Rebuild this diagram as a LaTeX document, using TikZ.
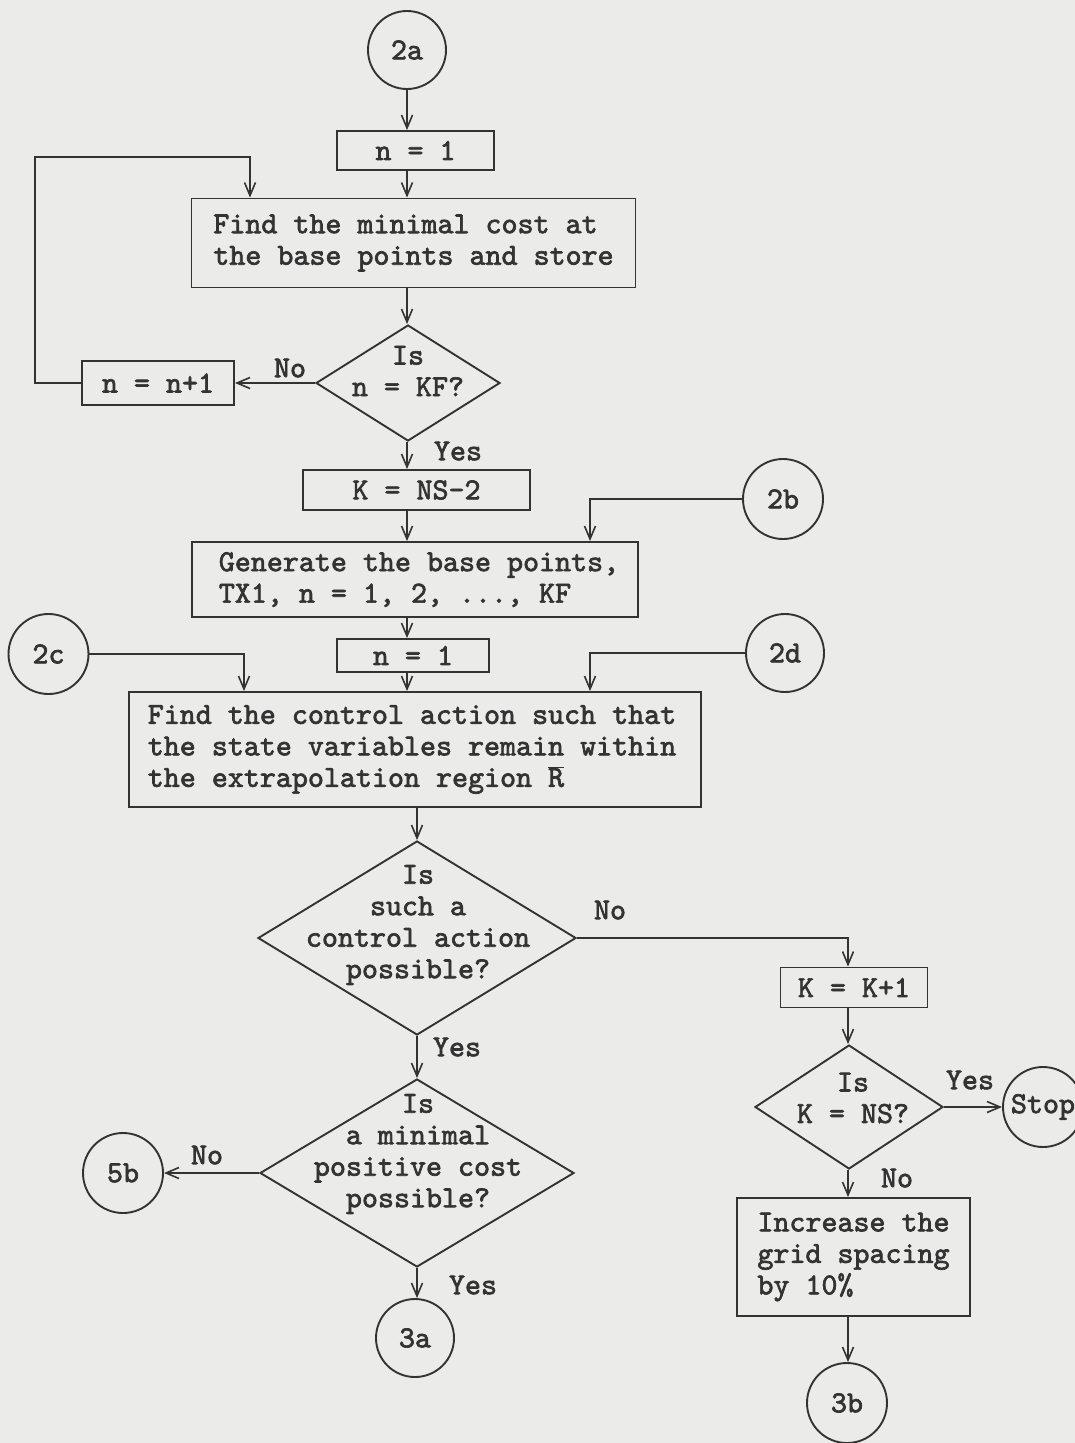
\documentclass[tikz,border=0pt]{standalone}
\usepackage{fontspec}
\newfontfamily\tw{lmmono10-regular.otf}[FakeBold=2.2]
\usetikzlibrary{arrows.meta,shapes.geometric}
\definecolor{paper}{HTML}{EBEBEA}
\definecolor{ink}{HTML}{333333}
\tikzset{
  box/.style={draw=ink, line width=1.9pt, rectangle, inner sep=0pt},
  circ/.style={draw=ink, line width=1.9pt, circle, inner sep=0pt},
  dia/.style={draw=ink, line width=1.9pt, diamond, inner sep=0pt},
  txt/.style={text=ink, font=\tw\fontsize{30.5}{31.5}\selectfont, inner sep=0pt},
  lbl/.style={text=ink, font=\tw\fontsize{30.5}{31.5}\selectfont, inner sep=0pt},
  arr/.style={draw=ink, line width=1.9pt, -{Straight Barb[length=13pt,width=11pt,line width=1.6pt]}},
  ln/.style={draw=ink, line width=1.9pt}
}
\begin{document}
\begin{tikzpicture}[x=1pt,y=-1pt]
\useasboundingbox (0,0) rectangle (1075,1443);
\fill[paper] (0,0) rectangle (1075,1443);

% column coordinates
\coordinate (colA) at (407,0);
\coordinate (colD) at (417,0);
\coordinate (colR) at (848,0);
\coordinate (colB) at (590,0);
\coordinate (colL) at (250,0);
\coordinate (colC) at (244,0);
\coordinate (loopL) at (35,157);

% nodes
\node[circ, txt, minimum size=78pt] (c2a) at (407,50) {2a};
\node[box, txt, minimum width=157pt, minimum height=39pt] (b1) at (415.5,150.5) {n = 1};
\node[box, txt, align=left, minimum width=444pt, minimum height=89pt] (bfind) at (413.5,243) {Find the minimal cost at\\the base points and store};
\node[dia, minimum width=184pt, minimum height=116pt] (d1) at (408,383) {};
\node[txt, align=center] (d1t) at (408,371) {Is\\n = KF?};
\node[box, txt, minimum width=152pt, minimum height=44pt] (bnn1) at (158,383) {n = n+1};
\node[box, txt, minimum width=227pt, minimum height=40pt] (bK) at (416.5,490) {K = NS-2};
\node[box, txt, align=left, minimum width=446pt, minimum height=75pt] (bgen) at (415,579.5) {\hspace*{8pt}Generate the base points,\\\hspace*{8pt}TX1, n = 1, 2, ..., KF};
\node[circ, txt, minimum size=80pt] (c2b) at (783,499) {2b};
\node[box, txt, minimum width=152pt, minimum height=33pt] (b1b) at (413,655.5) {n = 1};
\node[circ, txt, minimum size=80pt] (c2c) at (48.5,654) {2c};
\node[circ, txt, minimum size=78pt] (c2d) at (785,653) {2d};
\node[box, txt, align=left, minimum width=572pt, minimum height=115pt] (bctrl) at (415,749.5) {\hspace*{-6pt}Find the control action such that\\\hspace*{-6pt}the state variables remain within\\\hspace*{-6pt}the extrapolation region $\overline{\hbox{R}}$};
\node[dia, minimum width=318pt, minimum height=194pt] (d2) at (417,938) {};
\node[txt, align=center] (d2t) at (418,925) {Is\\such a\\control action\\possible?};
\node[box, txt, minimum width=147pt, minimum height=40pt] (bKK) at (854,987.5) {K = K+1};
\node[dia, minimum width=188pt, minimum height=124pt] (d3) at (849,1107) {};
\node[txt, align=center] (d3t) at (853,1098) {Is\\K = NS?};
\node[circ, txt, minimum size=80pt] (cstop) at (1043,1107) {Stop};
\node[box, txt, align=left, minimum width=233pt, minimum height=118pt] (binc) at (853.5,1257) {Increase the\\grid spacing\\by 10\%};
\node[circ, txt, minimum size=80pt] (c3b) at (847,1403) {3b};
\node[dia, minimum width=314pt, minimum height=188pt] (d4) at (417,1173) {};
\node[txt, align=center] (d4t) at (418,1154) {Is\\a minimal\\positive cost\\possible?};
\node[circ, txt, minimum size=80pt] (c5b) at (123,1173) {5b};
\node[circ, txt, minimum size=78pt] (c3a) at (415,1338) {3a};

% labels
\node[lbl] (l1no) at (290,368) {No};
\node[lbl] (l1yes) at (458,451) {Yes};
\node[lbl] (l2no) at (610,910) {No};
\node[lbl] (l2yes) at (457,1047) {Yes};
\node[lbl] (l4no) at (207,1155) {No};
\node[lbl] (l4yes) at (473,1285) {Yes};
\node[lbl] (l3yes) at (970,1080) {Yes};
\node[lbl] (l3no) at (897,1178) {No};

% connectors
\draw[arr] (colA |- c2a.south) -- (colA |- b1.north);
\draw[arr] (colA |- b1.south) -- (colA |- bfind.north);
\draw[arr] (colA |- bfind.south) -- (colA |- d1.north);
\draw[arr] (d1.west) -- (d1.west -| bnn1.east);
\draw[arr] (bnn1.west) -| (loopL) -| (colL |- bfind.north);
\draw[arr] (colA |- d1.south) -- (colA |- bK.north);
\draw[arr] (colA |- bK.south) -- (colA |- bgen.north);
\draw[arr] (c2b.west) -| (colB |- bgen.north);
\draw[arr] (colA |- bgen.south) -- (colA |- b1b.north);
\draw[arr] (colA |- b1b.south) -- (colA |- bctrl.north);
\draw[arr] (c2c.east) -| (colC |- bctrl.north);
\draw[arr] (c2d.west) -| (colB |- bctrl.north);
\draw[arr] (colD |- bctrl.south) -- (colD |- d2.north);
\draw[arr] (d2.east) -| (colR |- bKK.north);
\draw[arr] (colR |- bKK.south) -- (colR |- d3.north);
\draw[arr] (d3.east) -- (cstop.west);
\draw[arr] (colR |- d3.south) -- (colR |- binc.north);
\draw[arr] (colR |- binc.south) -- (colR |- c3b.north);
\draw[arr] (colD |- d2.south) -- (colD |- d4.north);
\draw[arr] (d4.west) -- (c5b.east);
\draw[arr] (colD |- d4.south) -- (colD |- c3a.north);
\end{tikzpicture}
\end{document}
